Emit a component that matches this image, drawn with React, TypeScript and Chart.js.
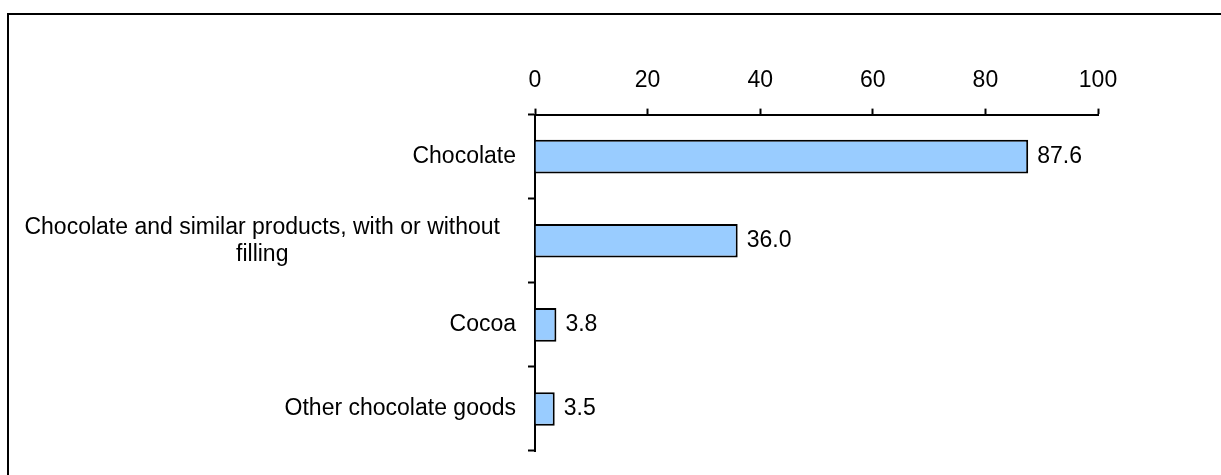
import React, { useEffect, useRef } from "react";
import { Chart, registerables } from "chart.js";

Chart.register(...registerables);

const categories: (string | string[])[] = [
  "Chocolate",
  ["Chocolate and similar products, with or without", "filling"],
  "Cocoa",
  "Other chocolate goods",
];
const values: number[] = [87.6, 36.0, 3.8, 3.5];
const axisMin = 0;
const axisMax = 100;
const axisStep = 20;

const FONT_FAMILY = "'Liberation Sans', Arial, sans-serif";
const FONT_SIZE = 23;

const framePlugin = {
  id: "frame",
  beforeDraw(chart: any) {
    const ctx = chart.ctx;
    ctx.save();
    ctx.fillStyle = "#ffffff";
    ctx.fillRect(0, 0, chart.width, chart.height);
    ctx.fillStyle = "#000000";
    ctx.fillRect(7, 13, 2, chart.height - 13);
    ctx.fillRect(7, 13, chart.width - 7, 2);
    ctx.restore();
  },
};

const labelsPlugin = {
  id: "customLabels",
  afterDraw(chart: any) {
    const ctx = chart.ctx;
    const yScale = chart.scales.y;
    const xScale = chart.scales.x;
    ctx.save();
    ctx.font = `${FONT_SIZE}px ${FONT_FAMILY}`;
    ctx.fillStyle = "#000000";
    ctx.textBaseline = "middle";
    const axisX = xScale.getPixelForValue(0);
    const lineH = 27;
    categories.forEach((cat, i) => {
      const yc = yScale.getPixelForValue(i);
      if (Array.isArray(cat)) {
        const widths = cat.map((l) => ctx.measureText(l).width);
        const maxW = Math.max(...widths);
        const cx = axisX - 35 - maxW / 2;
        ctx.textAlign = "center";
        const n = cat.length;
        cat.forEach((line, j) => {
          ctx.fillText(line, cx, yc + (j - (n - 1) / 2) * lineH);
        });
      } else {
        ctx.textAlign = "right";
        ctx.fillText(cat, axisX - 19, yc);
      }
    });
    const meta = chart.getDatasetMeta(0);
    ctx.textAlign = "left";
    meta.data.forEach((bar: any, i: number) => {
      ctx.fillText(values[i].toFixed(1), bar.x + 9, bar.y);
    });
    ctx.restore();
  },
};

export default function App() {
  const canvasRef = useRef<HTMLCanvasElement | null>(null);

  useEffect(() => {
    if (!canvasRef.current) return;
    const chart = new Chart(canvasRef.current, {
      type: "bar",
      data: {
        labels: categories as any,
        datasets: [
          {
            data: values,
            backgroundColor: "#99CCFF",
            borderColor: "#000000",
            borderWidth: 2,
            borderSkipped: "start",
            categoryPercentage: 1,
            barPercentage: 0.4,
          },
        ],
      },
      options: {
        indexAxis: "y",
        animation: false,
        responsive: false,
        devicePixelRatio: 1,
        layout: { padding: { top: 53, bottom: 24, left: 528, right: 123 } },
        plugins: {
          legend: { display: false },
          tooltip: { enabled: false },
          title: { display: false },
        },
        scales: {
          x: {
            position: "top",
            min: axisMin,
            max: axisMax,
            ticks: {
              stepSize: axisStep,
              color: "#000000",
              padding: 14,
              font: { family: FONT_FAMILY, size: FONT_SIZE },
            },
            grid: {
              drawOnChartArea: false,
              drawTicks: true,
              tickLength: 6,
              tickWidth: 2,
              tickColor: "#000000",
            },
            border: { display: true, color: "#000000", width: 2 },
          },
          y: {
            offset: true,
            ticks: { display: false },
            grid: {
              offset: true,
              drawOnChartArea: false,
              drawTicks: true,
              tickLength: 7,
              tickWidth: 2,
              tickColor: "#000000",
            },
            border: { display: true, color: "#000000", width: 2 },
          },
        },
      },
      plugins: [framePlugin, labelsPlugin],
    });
    return () => chart.destroy();
  }, []);

  return (
    <div style={{ position: "absolute", left: 0, top: 0, width: 1221, height: 475 }}>
      <canvas ref={canvasRef} width={1221} height={475} style={{ display: "block" }} />
    </div>
  );
}
